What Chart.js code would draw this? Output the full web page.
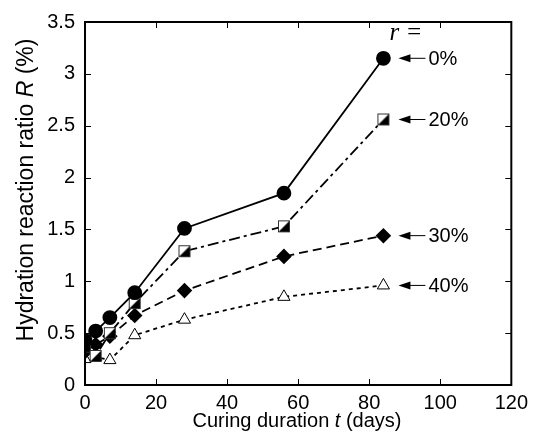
<!DOCTYPE html>
<html>
<head>
<meta charset="utf-8">
<script src="https://cdn.jsdelivr.net/npm/chart.js@4"></script>
<style>
  body { margin: 0; background: #fff; }
  #wrap { width: 534px; height: 432px; }
</style>
</head>
<body>
<div id="wrap"><canvas id="hydChart" width="534" height="432"></canvas></div>
<script>
// curing days
const days = [0, 3, 7, 14, 28, 56, 84];
// hydration reaction ratio R (%) for each replacement ratio r
const r0 = [0.43, 0.52, 0.65, 0.89, 1.51, 1.85, 3.15];
const r20 = [0.37, 0.28, 0.50, 0.79, 1.29, 1.53, 2.56];
const r30 = [0.32, 0.39, 0.47, 0.67, 0.91, 1.24, 1.44];
const r40 = [0.25, 0.27, 0.24, 0.48, 0.63, 0.85, 0.96];
const seriesLabels = ["0%", "20%", "30%", "40%"];
const xTicks = [0, 20, 40, 60, 80, 100, 120];
const yTicks = [0, 0.5, 1, 1.5, 2, 2.5, 3, 3.5];

const FONT = "'Liberation Sans', Arial, sans-serif";

function pts(vals) {
  return days.map((d, i) => ({ x: d, y: vals[i] }));
}

// half filled square marker
function halfSquare() {
  const c = document.createElement("canvas");
  c.width = 14; c.height = 14;
  const g = c.getContext("2d");
  g.fillStyle = "#fff";
  g.fillRect(1, 1, 12, 12);
  g.fillStyle = "#000";
  g.beginPath();
  g.moveTo(13, 1); g.lineTo(13, 13); g.lineTo(1, 13); g.closePath();
  g.fill();
  g.strokeStyle = "#333";
  g.lineWidth = 1;
  g.strokeRect(1.5, 1.5, 11, 11);
  return c;
}

// frame with inward ticks on all four sides
const framePlugin = {
  id: "frame",
  afterDatasetsDraw(chart) {
    const { ctx, chartArea: a, scales } = chart;
    ctx.save();
    ctx.strokeStyle = "#000";
    ctx.lineWidth = 2;
    ctx.strokeRect(a.left, a.top, a.right - a.left, a.bottom - a.top);
    ctx.lineWidth = 1;
    ctx.beginPath();
    xTicks.forEach(t => {
      const x = Math.round(scales.x.getPixelForValue(t)) + 0.5;
      ctx.moveTo(x, a.bottom); ctx.lineTo(x, a.bottom - 6);
      ctx.moveTo(x, a.top); ctx.lineTo(x, a.top + 6);
    });
    yTicks.forEach(t => {
      const y = Math.round(scales.y.getPixelForValue(t)) + 0.5;
      ctx.moveTo(a.left, y); ctx.lineTo(a.left + 6, y);
      ctx.moveTo(a.right, y); ctx.lineTo(a.right - 6, y);
    });
    ctx.stroke();
    ctx.restore();
  }
};

// axis titles (with italic symbol) and the r = labels with arrows
const notePlugin = {
  id: "notes",
  afterDraw(chart) {
    const { ctx, chartArea: a, scales } = chart;
    ctx.save();
    ctx.fillStyle = "#000";
    ctx.textBaseline = "middle";

    // x title
    const xParts = [["Curing duration ", ""], ["t", "italic "], [" (days)", ""]];
    drawParts(ctx, xParts, 297, 421, 20);

    // y title
    ctx.save();
    ctx.translate(27, 190);
    ctx.rotate(-Math.PI / 2);
    const yParts = [["Hydration reaction ratio ", ""], ["R", "italic "], [" (%)", ""]];
    drawParts(ctx, yParts, 0, 0, 23);
    ctx.restore();

    // arrows and labels
    const last = days.length - 1;
    const px = scales.x.getPixelForValue(days[last]);
    [r0, r20, r30, r40].forEach((s, i) => {
      const py = scales.y.getPixelForValue(s[last]);
      const tip = px + 15, tail = px + 42;
      ctx.strokeStyle = "#000";
      ctx.lineWidth = 1;
      ctx.beginPath();
      ctx.moveTo(tip + 6, py); ctx.lineTo(tail, py);
      ctx.stroke();
      ctx.beginPath();
      ctx.moveTo(tip, py); ctx.lineTo(tip + 12, py - 4); ctx.lineTo(tip + 12, py + 4);
      ctx.closePath();
      ctx.fill();
      ctx.font = "20px " + FONT;
      ctx.textAlign = "left";
      ctx.fillText(seriesLabels[i], tail + 3, py + 1);
    });
    ctx.font = "italic 25px 'Liberation Serif', 'Times New Roman', serif";
    ctx.textAlign = "left";
    ctx.fillText("r =", px + 6, 33);
    ctx.restore();
  }
};

function drawParts(ctx, parts, cx, cy, size) {
  let total = 0;
  parts.forEach(p => { ctx.font = p[1] + size + "px " + FONT; total += ctx.measureText(p[0]).width; });
  let x = cx - total / 2;
  ctx.textAlign = "left";
  parts.forEach(p => {
    ctx.font = p[1] + size + "px " + FONT;
    ctx.fillText(p[0], x, cy);
    x += ctx.measureText(p[0]).width;
  });
}

const chart = new Chart(document.getElementById("hydChart"), {
  type: "line",
  data: {
    datasets: [
      { label: seriesLabels[0], data: pts(r0), borderColor: "#000", borderWidth: 1.8,
        pointStyle: "circle", pointRadius: 6.5, pointBackgroundColor: "#000", pointBorderColor: "#000" },
      { label: seriesLabels[1], data: pts(r20), borderColor: "#000", borderWidth: 1.8, borderDash: [11, 4, 3, 4],
        pointStyle: halfSquare(), pointRadius: 7 },
      { label: seriesLabels[2], data: pts(r30), borderColor: "#000", borderWidth: 1.8, borderDash: [9, 5],
        pointStyle: "rectRot", pointRadius: 6.5, pointBackgroundColor: "#000", pointBorderColor: "#000" },
      { label: seriesLabels[3], data: pts(r40), borderColor: "#000", borderWidth: 1.8, borderDash: [4, 4],
        pointStyle: "triangle", pointRadius: 7, pointBackgroundColor: "#fff", pointBorderColor: "#000", pointBorderWidth: 1 }
    ]
  },
  options: {
    responsive: false,
    animation: false,
    layout: { padding: { top: 22, right: 18, left: 0, bottom: 0 } },
    plugins: { legend: { display: false }, tooltip: { enabled: false } },
    elements: { line: { tension: 0, fill: false } },
    scales: {
      x: {
        type: "linear", min: 0, max: 120,
        afterBuildTicks: s => { s.ticks = xTicks.map(v => ({ value: v })); },
        afterFit: s => { s.height = 47; },
        grid: { display: false, drawTicks: false },
        border: { display: false },
        ticks: { color: "#000", padding: 6, font: { family: FONT, size: 20 }, maxRotation: 0,
                 callback: v => String(v) }
      },
      y: {
        type: "linear", min: 0, max: 3.5,
        afterBuildTicks: s => { s.ticks = yTicks.map(v => ({ value: v })); },
        afterFit: s => { s.width = 85; },
        grid: { display: false, drawTicks: false },
        border: { display: false },
        ticks: { color: "#000", padding: 10, font: { family: FONT, size: 20 },
                 callback: v => String(v) }
      }
    }
  },
  plugins: [framePlugin, notePlugin]
});
</script>
</body>
</html>
